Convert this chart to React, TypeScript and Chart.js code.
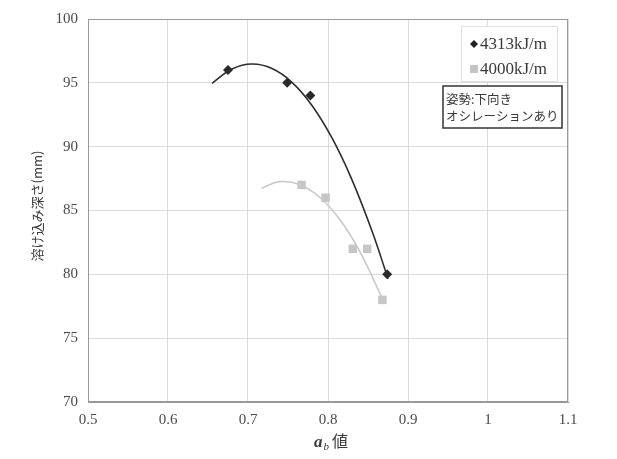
import React, { useEffect, useRef } from "react";
import { Chart, registerables } from "chart.js";

Chart.register(...registerables);

// Measured data points
const xs4313 = [0.675, 0.749, 0.778, 0.874];
const ys4313 = [96, 95, 94, 80];
const xs4000 = [0.767, 0.797, 0.831, 0.849, 0.868];
const ys4000 = [87, 86, 82, 82, 78];

// Trendline (2nd order polynomial) points
const trendX4313 = [0.655, 0.68, 0.705, 0.73, 0.755, 0.78, 0.805, 0.83, 0.855, 0.875];
const trendY4313 = [94.96, 96.08, 96.47, 96.12, 95.04, 93.23, 90.68, 87.4, 83.39, 79.66];
const trendX4000 = [0.717, 0.74, 0.765, 0.79, 0.815, 0.84, 0.868];
const trendY4000 = [86.75, 87.26, 87.02, 86.02, 84.27, 81.76, 78.1];

const xTicks = [0.5, 0.6, 0.7, 0.8, 0.9, 1, 1.1];
const yTicks = [70, 75, 80, 85, 90, 95, 100];

const seriesNames = ["4313kJ/m", "4000kJ/m"];
const yTitle = "溶け込み深さ(mm)";
const noteLines = ["姿勢:下向き", "オシレーションあり"];

const SERIF = '"Liberation Serif", "DejaVu Serif", serif';
const CJK = '"Noto Sans CJK JP", sans-serif';

const zip = (a: number[], b: number[]) => a.map((x, i) => ({ x, y: b[i] }));

const overlay = {
  id: "overlay",
  afterDraw(chart: any) {
    const ctx = chart.ctx as CanvasRenderingContext2D;
    const { left, top, right, bottom } = chart.chartArea;
    ctx.save();
    // frame
    ctx.strokeStyle = "#9a9a9a";
    ctx.lineWidth = 1;
    ctx.strokeRect(left + 0.5, top + 0.5, right - left - 1, bottom - top - 1);

    // y title
    ctx.save();
    ctx.translate(37, 206);
    ctx.rotate(-Math.PI / 2);
    ctx.fillStyle = "#3a3a3a";
    ctx.font = `13px ${CJK}`;
    ctx.textAlign = "center";
    ctx.textBaseline = "middle";
    ctx.fillText(yTitle, 0, 0);
    ctx.restore();

    // x title: italic a with subscript b, then 値
    const cx = (left + right) / 2 + 3;
    const by = 447;
    ctx.fillStyle = "#3a3a3a";
    ctx.textBaseline = "alphabetic";
    ctx.textAlign = "left";
    const fA = `italic bold 17px ${SERIF}`;
    const fB = `italic 11px ${SERIF}`;
    const fC = `16px ${CJK}`;
    ctx.font = fA;
    const wA = ctx.measureText("a").width;
    ctx.font = fB;
    const wB = ctx.measureText("b").width;
    ctx.font = fC;
    const wC = ctx.measureText("値").width;
    const total = wA + wB + 4 + wC;
    let x0 = cx - total / 2;
    ctx.font = fA;
    ctx.fillText("a", x0, by);
    x0 += wA + 1;
    ctx.font = fB;
    ctx.fillText("b", x0, by + 3);
    x0 += wB + 3;
    ctx.font = fC;
    ctx.fillText("値", x0, by);

    // legend box
    const lx = 461, ly = 26, lw = 96, lh = 55;
    ctx.fillStyle = "#fff";
    ctx.fillRect(lx, ly, lw, lh);
    ctx.strokeStyle = "#e0e0e0";
    ctx.lineWidth = 1;
    ctx.strokeRect(lx + 0.5, ly + 0.5, lw, lh);
    const mx = 474, r1 = 44, r2 = 69;
    ctx.fillStyle = "#222";
    ctx.beginPath();
    ctx.moveTo(mx, r1 - 4);
    ctx.lineTo(mx + 4, r1);
    ctx.lineTo(mx, r1 + 4);
    ctx.lineTo(mx - 4, r1);
    ctx.closePath();
    ctx.fill();
    ctx.fillStyle = "#c4c4c4";
    ctx.fillRect(mx - 4, r2 - 4, 8, 8);
    ctx.fillStyle = "#3a3a3a";
    ctx.font = `17px ${SERIF}`;
    ctx.textBaseline = "middle";
    ctx.fillText(seriesNames[0], 480, r1 + 1);
    ctx.fillText(seriesNames[1], 480, r2 + 1);

    // note box
    const nx = 443, ny = 86, nw = 119, nh = 42;
    ctx.fillStyle = "#fff";
    ctx.fillRect(nx, ny, nw, nh);
    ctx.strokeStyle = "#333";
    ctx.lineWidth = 1.5;
    ctx.strokeRect(nx, ny, nw, nh);
    ctx.fillStyle = "#3a3a3a";
    ctx.font = `12.5px ${CJK}`;
    ctx.textBaseline = "middle";
    ctx.fillText(noteLines[0], nx + 3, ny + 13);
    ctx.fillText(noteLines[1], nx + 3, ny + 30);
    ctx.restore();
  },
};

export default function App() {
  const ref = useRef<HTMLCanvasElement | null>(null);
  useEffect(() => {
    if (!ref.current) return;
    const chart = new Chart(ref.current, {
      type: "scatter",
      data: {
        datasets: [
          {
            label: "trend " + seriesNames[0],
            data: zip(trendX4313, trendY4313),
            showLine: true,
            borderColor: "#2e2e2e",
            borderWidth: 1.6,
            pointRadius: 0,
            tension: 0.4,
          },
          {
            label: "trend " + seriesNames[1],
            data: zip(trendX4000, trendY4000),
            showLine: true,
            borderColor: "#c9c9c9",
            borderWidth: 1.6,
            pointRadius: 0,
            tension: 0.4,
          },
          {
            label: seriesNames[0],
            data: zip(xs4313, ys4313),
            pointStyle: "rectRot",
            pointRadius: 5,
            backgroundColor: "#2a2a2a",
            borderColor: "#2a2a2a",
            borderWidth: 0,
          },
          {
            label: seriesNames[1],
            data: zip(xs4000, ys4000),
            pointStyle: "rect",
            pointRadius: 6,
            backgroundColor: "#c6c6c6",
            borderColor: "#c6c6c6",
            borderWidth: 0,
          },
        ],
      },
      options: {
        responsive: false,
        animation: false,
        layout: { padding: { top: 17, right: 49, left: 0, bottom: 0 } },
        plugins: { legend: { display: false }, tooltip: { enabled: false } },
        scales: {
          x: {
            type: "linear",
            min: xTicks[0],
            max: xTicks[xTicks.length - 1],
            afterBuildTicks: (s: any) => {
              s.ticks = xTicks.map((v) => ({ value: v }));
            },
            afterFit: (s: any) => {
              s.height = 57;
            },
            ticks: {
              padding: 9,
              color: "#4a4a4a",
              font: { family: SERIF, size: 15 },
              callback: (v: any) => String(parseFloat(Number(v).toFixed(1))),
            },
            grid: { color: "#dadada", lineWidth: 1, drawTicks: false },
            border: { color: "#9a9a9a" },
          },
          y: {
            type: "linear",
            min: yTicks[0],
            max: yTicks[yTicks.length - 1],
            afterBuildTicks: (s: any) => {
              s.ticks = yTicks.map((v) => ({ value: v }));
            },
            afterFit: (s: any) => {
              s.width = 88;
            },
            ticks: {
              padding: 10,
              color: "#4a4a4a",
              font: { family: SERIF, size: 15 },
            },
            grid: { color: "#dadada", lineWidth: 1, drawTicks: false },
            border: { color: "#9a9a9a" },
          },
        },
      },
      plugins: [overlay],
    });
    return () => chart.destroy();
  }, []);
  return (
    <div style={{ position: "fixed", left: 0, top: 0, width: 617, height: 459, background: "#fff" }}>
      <canvas ref={ref} width={617} height={459} />
    </div>
  );
}
